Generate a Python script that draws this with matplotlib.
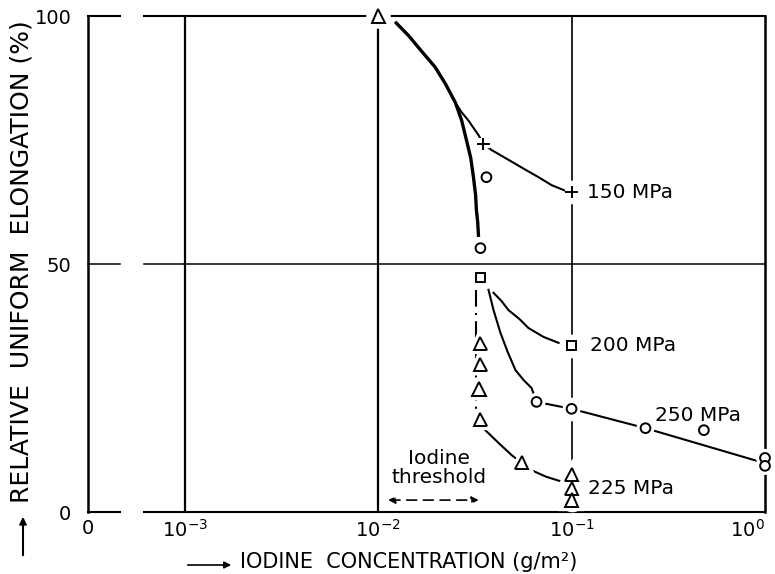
import numpy as np
import matplotlib.pyplot as plt
import matplotlib.patheffects as pe

plt.rcParams['font.family'] = 'DejaVu Sans'
plt.rcParams['mathtext.default'] = 'regular'

# measured points (x in g/m2, y in %)
plus_x = [0.01, 0.035, 0.1]
plus_y = [100, 74.2, 64.5]
square_x = [0.01, 0.0338, 0.1]
square_y = [100, 47.2, 33.5]
circle_x = [0.01, 0.0363, 0.0338, 0.0659, 0.1, 0.241, 0.483, 1.0, 1.0]
circle_y = [100, 67.5, 53.2, 22.2, 20.8, 16.9, 16.5, 10.9, 9.3]
triangle_x = [0.01, 0.0338, 0.0338, 0.0332, 0.0338, 0.0551, 0.1, 0.1, 0.1]
triangle_y = [100, 34.0, 29.8, 24.8, 18.6, 9.9, 7.5, 4.8, 2.4]

# hand drawn curves
curve_steep_x = [0.0124, 0.0144, 0.0166, 0.0197, 0.0223, 0.0251, 0.0270, 0.0286,
                 0.0301, 0.0311, 0.0319, 0.0322, 0.0327, 0.0330]
curve_steep_y = [98.6, 96.0, 93.1, 89.7, 86.3, 82.5, 79.0, 75.0,
                 71.4, 67.5, 63.9, 60.9, 58.5, 55.8]
curve_150_x = [0.0251, 0.0270, 0.0292, 0.0330, 0.035, 0.0385, 0.0472, 0.0578,
               0.0675, 0.0788, 0.0965]
curve_150_y = [82.5, 80.6, 79.0, 76.0, 74.2, 73.0, 71.0, 69.0,
               67.5, 65.9, 64.5]
curve_200_x = [0.0395, 0.0435, 0.0472, 0.0538, 0.0598, 0.0716, 0.0857]
curve_200_y = [44.2, 42.5, 40.7, 38.9, 37.1, 35.3, 34.1]
curve_250_x = [0.0372, 0.0395, 0.0429, 0.0467, 0.0513, 0.0565, 0.0621, 0.0659,
               0.1, 0.241, 0.91]
curve_250_y = [44.8, 40.7, 36.1, 32.3, 28.6, 26.6, 25.0, 22.2,
               20.8, 16.9, 10.3]
curve_225_x = [0.0358, 0.0420, 0.0489, 0.0551, 0.0614, 0.0740, 0.091]
curve_225_y = [16.5, 13.9, 11.5, 9.9, 8.5, 7.1, 6.0]
threshold_x = [0.0322, 0.0322]
threshold_y = [44.8, 19.0]

xticks = [10**-3.5, 1e-3, 1e-2, 1e-1, 1e0]
xticklabels = ['0', '$10^{-3}$', '$10^{-2}$', '$10^{-1}$', '$10^{0}$']
yticks = [0, 50, 100]

fig = plt.figure(figsize=(7.75, 5.74), dpi=100)
ax = fig.add_axes([88/775, 62/574, 677/775, 496/574])
ax.set_xscale('log')
ax.set_xlim(10**-3.5, 1)
ax.set_ylim(0, 100)

for s in ['top', 'bottom']:
    ax.spines[s].set_visible(False)
for s in ['left', 'right']:
    ax.spines[s].set_linewidth(1.8)

# horizontal lines with the axis break between 0 and 10^-3
brk1, brk2 = 10**-3.334, 10**-3.21
for yv, lw in [(0, 1.5), (50, 1.1), (100, 1.5)]:
    ax.plot([10**-3.5, brk1], [yv, yv], color='k', lw=lw, clip_on=False, zorder=1)
    ax.plot([brk2, 1], [yv, yv], color='k', lw=lw, clip_on=False, zorder=1)
for xv, lw in [(1e-3, 1.6), (1e-2, 1.6), (1e-1, 1.2)]:
    ax.plot([xv, xv], [0, 100], color='k', lw=lw, zorder=1)

# white patches that break grid lines around the symbols
for xs, ys in [(plus_x, plus_y), (square_x, square_y), (circle_x, circle_y), (triangle_x, triangle_y)]:
    ax.plot(xs, ys, 'o', ms=17, color='white', mec='none', zorder=2, clip_on=False)

ax.plot(curve_steep_x, curve_steep_y, color='k', lw=2.4, zorder=3)
ax.plot(curve_150_x, curve_150_y, color='k', lw=1.5, zorder=3)
ax.plot(curve_200_x, curve_200_y, color='k', lw=1.5, zorder=3)
ax.plot(curve_250_x, curve_250_y, color='k', lw=1.5, zorder=3)
ax.plot(curve_225_x, curve_225_y, color='k', lw=1.5, zorder=3)
ax.plot(threshold_x, threshold_y, color='k', lw=1.5, zorder=3, ls=(0, (8, 3, 1, 3)))

halo = [pe.Stroke(linewidth=6, foreground='white'), pe.Normal()]
kw = dict(ls='none', color='k', mfc='white', mew=1.4, zorder=4, clip_on=False,
          path_effects=halo)
ax.plot(plus_x, plus_y, marker='+', ms=9, **kw)
ax.plot(square_x, square_y, marker='s', ms=6.5, **kw)
ax.plot(circle_x, circle_y, marker='o', ms=7, **kw)
ax.plot(triangle_x, triangle_y, marker='^', ms=9.5, **kw)

lab = dict(fontsize=14.5, va='center', textcoords='offset points')
ax.annotate('150 MPa', (plus_x[-1], plus_y[-1]), xytext=(11, 0), **lab)
ax.annotate('200 MPa', (square_x[-1], square_y[-1]), xytext=(13, 0), **lab)
ax.annotate('225 MPa', (triangle_x[-2], triangle_y[-2]), xytext=(12, 0), **lab)
ax.annotate('250 MPa', (circle_x[5], circle_y[5]), xytext=(7, 9), **lab)

ax.text(0.0207, 8.9, 'Iodine\nthreshold', fontsize=14.5, ha='center', va='center',
        linespacing=1.0)
ax.annotate('', xy=(0.0342, 2.4), xytext=(0.0109, 2.4),
            arrowprops=dict(arrowstyle='<|-|>', lw=1.2, ls=(0, (6, 4)), color='k',
                            mutation_scale=10))

ax.set_xticks(xticks)
ax.set_xticklabels(xticklabels)
ax.xaxis.set_minor_locator(plt.NullLocator())
ax.set_yticks(yticks)
ax.tick_params(length=0, labelsize=14)
ax.tick_params(axis='y', pad=12)
ax.tick_params(axis='x', pad=5)
ax.get_xticklabels()[-1].set_horizontalalignment('right')

fig.text(22/775, 1 - 262/574, 'RELATIVE  UNIFORM  ELONGATION (%)', rotation=90,
         ha='center', va='center', fontsize=18)
fig.text(240/775, 1 - 562/574, 'IODINE  CONCENTRATION (g/m²)', ha='left',
         va='center', fontsize=15)
ax.annotate('', xy=(23/775, 1 - 514/574), xytext=(23/775, 1 - 558/574),
            xycoords='figure fraction', arrowprops=dict(arrowstyle='-|>', lw=1.5, color='k'))
ax.annotate('', xy=(234/775, 1 - 565/574), xytext=(185/775, 1 - 565/574),
            xycoords='figure fraction', arrowprops=dict(arrowstyle='-|>', lw=1.2, color='k'))

plt.savefig('out.png', dpi=100)
